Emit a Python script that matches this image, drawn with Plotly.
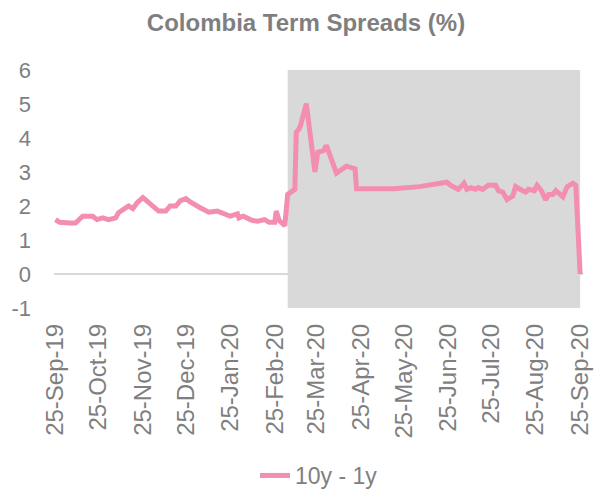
import plotly.graph_objects as go

dates = [
    "2019-09-25", "2019-09-28", "2019-10-05", "2019-10-09", "2019-10-14", "2019-10-21",
    "2019-10-24", "2019-10-28", "2019-11-01", "2019-11-06", "2019-11-08", "2019-11-13",
    "2019-11-15", "2019-11-18", "2019-11-21", "2019-11-25", "2019-11-29", "2019-12-02",
    "2019-12-06", "2019-12-11", "2019-12-14", "2019-12-18", "2019-12-21", "2019-12-25",
    "2019-12-27", "2019-12-28", "2020-01-04", "2020-01-10", "2020-01-16", "2020-01-20",
    "2020-01-25", "2020-01-30", "2020-01-31", "2020-02-03", "2020-02-09", "2020-02-13",
    "2020-02-18", "2020-02-21", "2020-02-25", "2020-02-26", "2020-02-28", "2020-03-03",
    "2020-03-05", "2020-03-10", "2020-03-11", "2020-03-13", "2020-03-14", "2020-03-18",
    "2020-03-21", "2020-03-24", "2020-03-26", "2020-03-30", "2020-04-01", "2020-04-04",
    "2020-04-08", "2020-04-15", "2020-04-21", "2020-04-22", "2020-05-18", "2020-06-05",
    "2020-06-21", "2020-06-24", "2020-06-27", "2020-07-02", "2020-07-04", "2020-07-06",
    "2020-07-08", "2020-07-11", "2020-07-14", "2020-07-16", "2020-07-19", "2020-07-23",
    "2020-07-28", "2020-07-30", "2020-08-02", "2020-08-05", "2020-08-09", "2020-08-11",
    "2020-08-15", "2020-08-18", "2020-08-20", "2020-08-24", "2020-08-26", "2020-08-29",
    "2020-09-01", "2020-09-03", "2020-09-06", "2020-09-08", "2020-09-11", "2020-09-13",
    "2020-09-16", "2020-09-20", "2020-09-22", "2020-09-25",
]

spread_10y_1y = [
    1.60, 1.52, 1.50, 1.50, 1.70, 1.70,
    1.60, 1.65, 1.60, 1.65, 1.80, 1.95,
    2.00, 1.92, 2.10, 2.25, 2.10, 2.00,
    1.85, 1.85, 2.00, 2.00, 2.15, 2.22,
    2.15, 2.12, 1.95, 1.82, 1.85, 1.80,
    1.70, 1.77, 1.65, 1.70, 1.58, 1.55,
    1.60, 1.52, 1.52, 1.85, 1.58, 1.42,
    2.34, 2.49, 4.17, 4.27, 4.37, 5.01,
    3.98, 3.00, 3.58, 3.63, 3.78, 3.43,
    2.97, 3.17, 3.09, 2.51, 2.51, 2.57,
    2.67, 2.70, 2.60, 2.49, 2.57, 2.67,
    2.49, 2.54, 2.49, 2.54, 2.49, 2.61,
    2.61, 2.45, 2.41, 2.19, 2.29, 2.57,
    2.47, 2.41, 2.49, 2.45, 2.61, 2.45,
    2.18, 2.34, 2.34, 2.45, 2.34, 2.27,
    2.57, 2.67, 2.61, 0.00,
]

tick_dates = [
    "2019-09-25", "2019-10-25", "2019-11-25", "2019-12-25", "2020-01-25", "2020-02-25",
    "2020-03-25", "2020-04-25", "2020-05-25", "2020-06-25", "2020-07-25", "2020-08-25",
    "2020-09-25",
]
tick_labels = [
    "25-Sep-19", "25-Oct-19", "25-Nov-19", "25-Dec-19", "25-Jan-20", "25-Feb-20",
    "25-Mar-20", "25-Apr-20", "25-May-20", "25-Jun-20", "25-Jul-20", "25-Aug-20",
    "25-Sep-20",
]

y_tick_values = [-1, 0, 1, 2, 3, 4, 5, 6]
y_tick_labels = ["-1", "0", "1", "2", "3", "4", "5", "6"]

shade_start = "2020-03-05"
shade_end = "2020-09-25"

GRAY_TEXT = "#7F7F7F"
FONT = "Liberation Sans, Arial, sans-serif"

fig = go.Figure()
fig.add_trace(go.Scatter(
    x=dates, y=spread_10y_1y, mode="lines", name="10y - 1y",
    line=dict(color="#F38DB2", width=5),
))

fig.add_shape(type="rect", xref="x", yref="paper",
              x0=shade_start, x1=shade_end, y0=0, y1=1,
              fillcolor="#D9D9D9", line=dict(width=0), layer="below")

fig.update_layout(
    width=595, height=491,
    margin=dict(l=54, r=12, t=70, b=183),
    paper_bgcolor="white", plot_bgcolor="white",
    font=dict(family=FONT, color=GRAY_TEXT, size=22),
    title=dict(text="<b>Colombia Term Spreads (%)</b>",
               font=dict(family=FONT, size=24, color=GRAY_TEXT),
               x=306 / 595, xanchor="center", xref="container",
               y=1 - 23 / 491, yanchor="middle", yref="container",
               automargin=False),
    showlegend=True,
    legend=dict(orientation="h", xref="container", yref="container",
                x=255 / 595, xanchor="left", y=(491 - 454) / 491, yanchor="top",
                font=dict(size=23, color=GRAY_TEXT), bgcolor="rgba(0,0,0,0)"),
    xaxis=dict(
        range=["2019-09-24", "2020-09-27"],
        tickvals=tick_dates, ticktext=tick_labels,
        tickangle=-90, showgrid=False, zeroline=False, showline=False,
        ticks="", ticklabelstandoff=10, automargin=False,
        tickfont=dict(size=24, color=GRAY_TEXT),
    ),
    yaxis=dict(
        range=[-1, 6], tickvals=y_tick_values, ticktext=y_tick_labels,
        showgrid=False,
        zeroline=True, zerolinecolor="#D9D9D9", zerolinewidth=1.5,
        showline=False, ticks="", ticklabelstandoff=22, automargin=False,
        tickfont=dict(size=22, color=GRAY_TEXT),
    ),
)

fig.write_html("out.html", config={"displayModeBar": False},
               post_script="document.body.style.margin='0';")
